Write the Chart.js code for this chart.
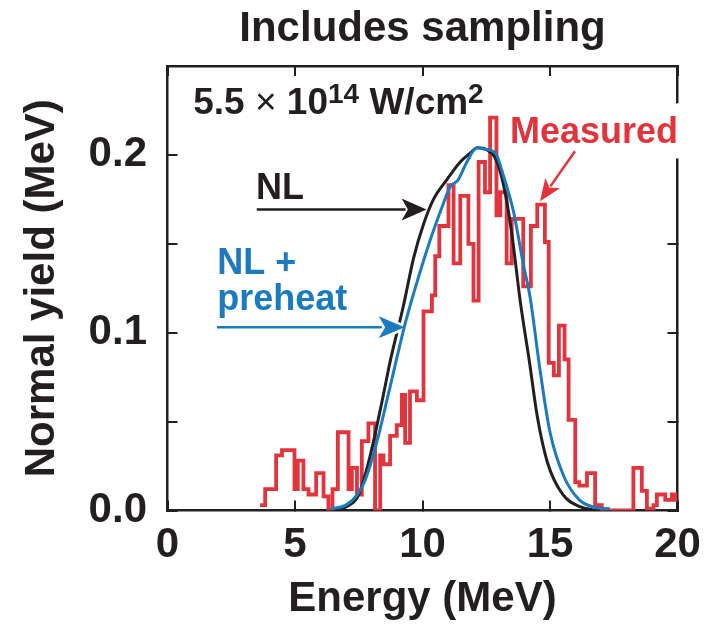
<!DOCTYPE html>
<html>
<head>
<meta charset="utf-8">
<script src="https://cdn.jsdelivr.net/npm/chart.js@4.4.1/dist/chart.umd.min.js"></script>
<style>
  html, body { margin: 0; padding: 0; background: #fff; }
  canvas { display: block; }
</style>
</head>
<body>
<canvas id="spectrum" width="709" height="625"></canvas>
<script>
// measured spectrum: left bin edges (last entry closes the final bin) and bin heights
const measuredEdges = [3.63, 3.83, 4.26, 4.49, 4.98, 5.11, 5.33, 5.53, 5.83, 6.12, 6.31, 6.47, 6.68, 7.10, 7.23,
    7.43, 7.62, 7.88, 8.14, 8.34, 8.47, 8.73, 8.99, 9.19, 9.32, 9.51, 9.78, 10.04, 10.37, 10.50, 10.66, 11.02,
    11.22, 11.48, 11.80, 12.00, 12.20, 12.45, 12.65, 12.90, 13.05, 13.30, 13.50, 13.95, 14.25, 14.50, 14.80,
    14.95, 15.15, 15.35, 15.57, 15.73, 15.99, 16.15, 16.45, 16.77, 17.03, 18.27, 18.60, 18.80, 19.06, 19.19,
    19.52, 19.78, 19.91, 20.00];
const measuredYield = [0.003, 0.012, 0.031, 0.034, 0.012, 0.028, 0.012, 0.009, 0.021, 0.008, 0.0, 0.012, 0.044,
    0.012, 0.024, 0.009, 0.039, 0.049, 0.0, 0.031, 0.026, 0.042, 0.048, 0.065, 0.038, 0.067, 0.062, 0.112, 0.121,
    0.143, 0.160, 0.183, 0.139, 0.177, 0.150, 0.118, 0.196, 0.179, 0.221, 0.166, 0.179, 0.139, 0.164, 0.126,
    0.160, 0.172, 0.151, 0.083, 0.076, 0.104, 0.085, 0.051, 0.016, 0.014, 0.021, 0.003, 0.0, 0.024, 0.011,
    0.001, 0.003, 0.009, 0.006, 0.009, 0.006];

// NL simulation
const nlEnergy = [6.4, 7.0, 7.5, 7.9, 8.35, 8.75, 9.25, 9.65, 10.04, 10.43, 10.95, 11.48, 11.87, 12.15, 12.5,
    12.86, 13.18, 13.5, 13.83, 14.2, 14.5, 14.9, 15.5, 16.2, 16.9];
const nlYield = [0.0, 0.002, 0.009, 0.028, 0.057, 0.085, 0.115, 0.142, 0.161, 0.175, 0.186, 0.196, 0.201, 0.204,
    0.203, 0.198, 0.183, 0.156, 0.118, 0.083, 0.053, 0.027, 0.009, 0.002, 0.0];

// NL + preheat simulation
const preheatEnergy = [6.4, 7.0, 7.45, 7.75, 8.2, 8.67, 9.3, 9.65, 10.3, 10.8, 11.08, 11.4, 11.74, 12.13, 12.5,
    12.86, 13.18, 13.57, 13.96, 14.22, 14.6, 15.0, 15.55, 16.15, 16.7, 17.35];
const preheatYield = [0.001, 0.003, 0.009, 0.017, 0.038, 0.066, 0.104, 0.122, 0.152, 0.172, 0.182, 0.186, 0.196,
    0.204, 0.203, 0.201, 0.188, 0.168, 0.138, 0.12, 0.08, 0.044, 0.019, 0.006, 0.002, 0.001];

const yTickLabels = [0.0, 0.1, 0.2];

const FONT = "'Liberation Sans', Arial, Helvetica, sans-serif";
const RED = '#e1343d';
const BLUE = '#1b7bbf';
const BLACK = '#231f20';

function toPoints(xs, ys) {
    return ys.map((y, i) => ({ x: xs[i], y: y }));
}

// each bin value holds until the next edge
const measuredPoints = toPoints(measuredEdges, measuredYield);
measuredPoints.push({ x: measuredEdges[measuredEdges.length - 1], y: measuredYield[measuredYield.length - 1] });

// pin an axis box to a fixed size and stop it from asking for label overflow room
function fixedSize(prop, size) {
    return function (scale) {
        scale[prop] = size;
        scale.paddingLeft = 0;
        scale.paddingRight = 0;
        scale.paddingTop = 0;
        scale.paddingBottom = 0;
    };
}

const frame = { display: true, color: BLACK, width: 2.5 };
const inwardTicks = { drawOnChartArea: false, drawTicks: true, tickLength: -10, color: BLACK, lineWidth: 2 };
const bigFont = { family: FONT, size: 42, weight: 'bold' };

function arrow(ctx, x0, y0, x1, y1, color, headLen, headHalf, halo) {
    const a = Math.atan2(y1 - y0, x1 - x0);
    const bx = x1 - headLen * Math.cos(a), by = y1 - headLen * Math.sin(a);
    ctx.strokeStyle = color;
    ctx.lineWidth = 2.5;
    ctx.beginPath();
    ctx.moveTo(x0, y0);
    ctx.lineTo(bx + 4 * Math.cos(a), by + 4 * Math.sin(a));
    ctx.stroke();
    ctx.beginPath();
    ctx.moveTo(x1, y1);
    ctx.lineTo(bx - headHalf * Math.sin(a), by + headHalf * Math.cos(a));
    ctx.lineTo(x1 - headLen * 0.75 * Math.cos(a), y1 - headLen * 0.75 * Math.sin(a));
    ctx.lineTo(bx + headHalf * Math.sin(a), by - headHalf * Math.cos(a));
    ctx.closePath();
    if (halo) {
        ctx.strokeStyle = '#fff';
        ctx.lineWidth = 5;
        ctx.lineJoin = 'round';
        ctx.stroke();
    }
    ctx.fillStyle = color;
    ctx.fill();
}

function label(ctx, text, x, y, size, color, weight) {
    ctx.font = (weight || 'bold') + ' ' + size + 'px ' + FONT;
    ctx.fillStyle = color;
    ctx.fillText(text, x, y);
    return ctx.measureText(text).width;
}

// blue arrow sits over the NL curve but under the NL + preheat curve
const preheatArrow = {
    id: 'preheatArrow',
    afterDatasetDraw(chart, args) {
        if (args.index !== 1) return;
        const { ctx, scales: { x, y } } = chart;
        ctx.save();
        arrow(ctx, x.getPixelForValue(1.94), y.getPixelForValue(0.103),
            x.getPixelForValue(9.3), y.getPixelForValue(0.103), BLUE, 26, 11, true);
        ctx.restore();
    }
};

const notes = {
    id: 'notes',
    afterDraw(chart) {
        const { ctx, scales: { x, y } } = chart;
        const px = v => x.getPixelForValue(v);
        const py = v => y.getPixelForValue(v);
        ctx.save();
        ctx.textAlign = 'left';
        ctx.textBaseline = 'alphabetic';

        // intensity
        let cx = px(1.01);
        const base = py(0.2228);
        cx += label(ctx, '5.5 ', cx, base, 37, BLACK);
        cx += label(ctx, '\u00d7', cx, base, 37, BLACK, 'normal');
        cx += label(ctx, ' 10', cx, base, 37, BLACK);
        cx += label(ctx, '14', cx, base - 11, 28, BLACK);
        cx += label(ctx, ' W/cm', cx, base, 37, BLACK);
        label(ctx, '2', cx, base - 11, 28, BLACK);

        // measured label knocks out the frame
        ctx.fillStyle = '#fff';
        ctx.fillRect(px(13.3), py(0.229), 685 - px(13.3), py(0.198) - py(0.229));
        label(ctx, 'Measured', px(13.43), py(0.2069), 36, RED);
        arrow(ctx, px(15.98), py(0.2021), px(14.61), py(0.174), RED, 22, 9, false);

        label(ctx, 'NL', px(3.47), py(0.1753), 36, BLACK);
        arrow(ctx, px(3.5), py(0.1693), px(10.16), py(0.1693), BLACK, 25, 11, false);

        label(ctx, 'NL +', px(1.95), py(0.1331), 36, BLUE);
        label(ctx, 'preheat', px(1.95), py(0.113), 36, BLUE);
        ctx.restore();
    }
};

new Chart(document.getElementById('spectrum'), {
    type: 'line',
    data: {
        datasets: [{
            label: 'NL + preheat',
            data: toPoints(preheatEnergy, preheatYield),
            borderColor: BLUE,
            borderWidth: 3,
            pointRadius: 0,
            cubicInterpolationMode: 'monotone'
        }, {
            label: 'NL',
            data: toPoints(nlEnergy, nlYield),
            borderColor: BLACK,
            borderWidth: 3,
            pointRadius: 0,
            cubicInterpolationMode: 'monotone'
        }, {
            label: 'Measured',
            data: measuredPoints,
            borderColor: RED,
            borderWidth: 3.8,
            borderJoinStyle: 'miter',
            pointRadius: 0,
            stepped: true
        }]
    },
    options: {
        responsive: false,
        animation: false,
        events: [],
        layout: { autoPadding: false, padding: { left: 0, right: 31.5, top: 0, bottom: 0 } },
        plugins: {
            legend: { display: false },
            tooltip: { enabled: false },
            title: {
                display: true,
                text: 'Includes sampling',
                fullSize: false,
                color: BLACK,
                font: bigFont,
                padding: { top: 4, bottom: 11.6 }
            }
        },
        scales: {
            x: {
                type: 'linear', position: 'bottom', min: 0, max: 20, z: 1,
                ticks: { stepSize: 5, padding: 19.7, color: BLACK, font: bigFont, maxRotation: 0 },
                grid: inwardTicks,
                border: frame,
                title: { display: true, text: 'Energy (MeV)', color: BLACK, font: bigFont, padding: { top: 0, bottom: 0 } },
                afterFit: fixedSize('height', 114.5)
            },
            xTop: {
                type: 'linear', position: 'top', min: 0, max: 20, z: 1,
                ticks: { display: false, stepSize: 5 },
                grid: inwardTicks,
                border: frame,
                afterFit: fixedSize('height', 0)
            },
            y: {
                type: 'linear', position: 'left', min: 0, max: 0.25, z: 1,
                ticks: {
                    stepSize: 0.05, padding: 30.5, color: BLACK, font: bigFont,
                    callback: function (v) {
                        const r = Math.round(v * 100) / 100;
                        return yTickLabels.some(t => Math.abs(t - r) < 1e-9) ? r.toFixed(1) : '';
                    }
                },
                grid: inwardTicks,
                border: frame,
                title: { display: true, text: 'Normal yield (MeV)', color: BLACK, font: bigFont, padding: { top: 17, bottom: 0 } },
                afterFit: fixedSize('width', 167.5)
            },
            yRight: {
                type: 'linear', position: 'right', min: 0, max: 0.25, z: 1,
                ticks: { display: false, stepSize: 0.05 },
                grid: inwardTicks,
                border: frame,
                afterFit: fixedSize('width', 0)
            }
        }
    },
    plugins: [preheatArrow, notes]
});
</script>
</body>
</html>
